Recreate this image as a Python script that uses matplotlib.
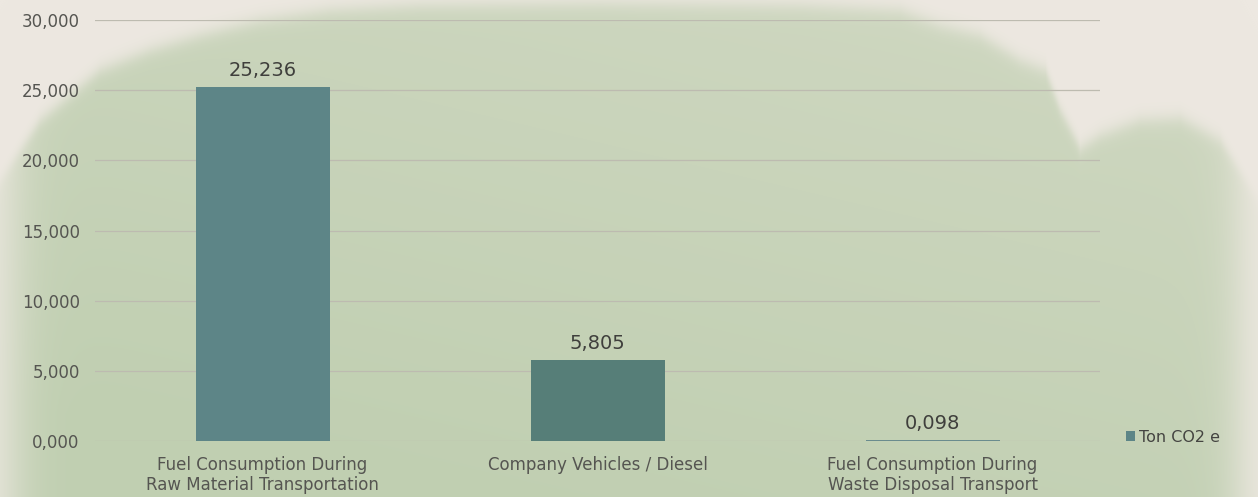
import numpy as np
import matplotlib
matplotlib.use("Agg")
import matplotlib.pyplot as plt
from matplotlib.ticker import FuncFormatter

# ---- data ----
categories = ["Fuel Consumption During\nRaw Material Transportation",
              "Company Vehicles / Diesel",
              "Fuel Consumption During\nWaste Disposal Transport"]
values = [25.236, 5.805, 0.098]
value_labels = ["25,236", "5,805", "0,098"]
series_name = "Ton CO2 e"
yticks = [0, 5, 10, 15, 20, 25, 30]

plt.rcParams['font.family'] = ['DejaVu Sans']

W, H = 1258, 497
fig = plt.figure(figsize=(W / 100, H / 100), dpi=100)

# ---- decorative watercolor-like background ----
bg = fig.add_axes([0, 0, 1, 1], zorder=-10)
yy, xx = np.mgrid[0:H, 0:W].astype(float)
bx = [0, 40, 100, 150, 200, 260, 330, 420, 600, 800, 900, 940, 980, 1020, 1045, 1060, 1080, 1100, 1140, 1180, 1220, 1258]
by = [180, 120, 70, 50, 35, 20, 10, 5, 3, 5, 10, 25, 35, 60, 70, 110, 148, 135, 120, 118, 140, 200]
b = np.interp(xx[0], bx, by)
m = 1 / (1 + np.exp(-(yy - b[None, :]) / 5))
m *= 1 / (1 + np.exp(-(xx - 12) / 14))
m *= 1 / (1 + np.exp((xx - 1238) / 12))
# slightly stronger tint toward lower-left, weaker toward right
shade = 0.8 + 0.25 * (yy / H) - 0.15 * (xx / W)
m *= np.clip(shade, 0, 1)
beige = np.array([237, 232, 225]) / 255
green = np.array([192, 207, 177]) / 255
img = beige * (1 - m[..., None]) + green * m[..., None]
bg.imshow(img, aspect='auto', extent=[0, W, H, 0])
bg.axis('off')

# ---- main chart ----
ax = fig.add_axes([95 / W, (H - 441) / H, (1100 - 95) / W, (441 - 20) / H])
ax.set_facecolor('none')
x = np.arange(len(categories))
bar_colors = ['#5d8587', '#567e78', '#6a8c8e']
bars = ax.bar(x, values, width=0.4, color=bar_colors, label=series_name, zorder=3)

for xi, v, lab in zip(x, values, value_labels):
    ax.annotate(lab, (xi, v), xytext=(0, 5), textcoords='offset points',
                ha='center', va='bottom', fontsize=14, color='#3f3f3c')

ax.set_xlim(-0.5, 2.5)
ax.set_ylim(0, 30)
ax.set_yticks(yticks)
ax.yaxis.set_major_formatter(FuncFormatter(lambda v, p: ("%d,000" % v)))
ax.set_xticks(x)
ax.set_xticklabels(categories, linespacing=1.1)
ax.tick_params(axis='both', length=0, labelsize=12, labelcolor='#555551')
ax.tick_params(axis='y', pad=11)
ax.tick_params(axis='x', pad=11)
ax.grid(axis='y', color='#bdbbb0', lw=0.9, zorder=1)
for s in ax.spines.values():
    s.set_visible(False)

leg = ax.legend(handles=[bars.patches[0]], labels=[series_name],
                loc='center left', bbox_to_anchor=(1118 / W, (H - 437) / H),
                bbox_transform=fig.transFigure, frameon=False, fontsize=11.5,
                handlelength=0.55, handleheight=0.55, handletextpad=0.25, borderpad=0,
                labelcolor='#444441')

fig.savefig('out.png', dpi=100)
